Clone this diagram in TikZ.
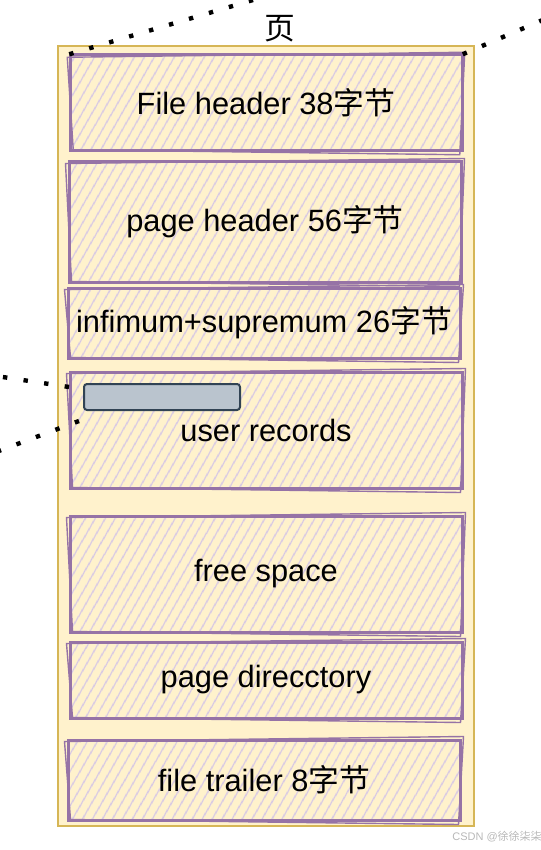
\documentclass[tikz,border=0pt]{standalone}
\usepackage{fontspec}
\setmainfont{Liberation Sans}
\newfontfamily\cjk{Noto Sans CJK SC}
\usetikzlibrary{patterns.meta,calc}

\definecolor{pagefill}{HTML}{FFF2CC}
\definecolor{pageline}{HTML}{D6B656}
\definecolor{partline}{HTML}{9673A6}
\definecolor{parthatch}{HTML}{D5C6E6}
\definecolor{barfill}{HTML}{BAC4CE}
\definecolor{barline}{HTML}{314354}

\tikzset{
  pagebox/.style={draw=pageline, fill=pagefill, line width=1pt, inner sep=0pt,
    minimum width=208pt, minimum height=390pt},
  partbox/.style={draw=partline, line width=1.5pt, inner sep=0pt,
    pattern={Lines[angle=60,distance=4pt,line width=0.75pt]}, pattern color=parthatch,
    minimum width=196pt, font=\fontsize{15.4}{17}\selectfont},
  sketchline/.style={draw=partline, line width=0.7pt},
  recordbar/.style={draw=barline, fill=barfill, line width=1pt, rounded corners=1.5pt,
    minimum width=78pt, minimum height=13pt, inner sep=0pt},
  dotline/.style={line width=2.2pt, dash pattern=on 2.2pt off 8.2pt}
}

\begin{document}
\begin{tikzpicture}[x=0.5pt,y=-0.5pt]
  \useasboundingbox (0,0) rectangle (540,850);
  % the page and its title
  \path (266,436) node[pagebox] (page) {};
  \path (280,29) node[font=\fontsize{15.4}{17}\selectfont\cjk] (title) {页};
  % the parts of the page, top to bottom
  \path (266,103) node[partbox, minimum height=48pt] (fh) {File header 38{\cjk 字节}};
  \path (265,222) node[partbox, minimum height=60pt] (ph) {page header 56{\cjk 字节}};
  \path (264,323) node[partbox, minimum height=35pt] (is) {infimum+supremum 26{\cjk 字节}};
  \path (266,430) node[partbox, minimum height=58pt] (ur) {\raisebox{-7pt}{user records}};
  \path (266,574) node[partbox, minimum height=58pt] (fs) {free space};
  \path (266,680) node[partbox, minimum height=38pt] (pd) {page direcctory};
  \path (264,780) node[partbox, minimum height=40pt] (ft) {file trailer 8{\cjk 字节}};
  % second strokes for the hand drawn look
  \foreach \n in {fh,ph,is,ur,fs,pd,ft}
    \draw[sketchline] ($(\n.north west)+(-2,3)$) -- ($(\n.north east)+(2,-2)$)
      -- ($(\n.south east)+(-3,3)$) -- ($(\n.south west)+(4,-2)$) -- cycle;
  % a record inside user records
  \path (162,397) node[recordbar] (rec) {};
  % zoom lines
  \coordinate (topleft) at (253,0);
  \coordinate (topright) at (545,19);
  \coordinate (recup) at (-4,376);
  \coordinate (recdown) at (-4,452);
  \draw[dotline] (fh.north west) -- (topleft);
  \draw[dotline] (fh.north east) -- (topright);
  \draw[dotline] ($(rec.north west)+(-14,4)$) -- (recup);
  \draw[dotline] ($(rec.south west)+(-4,10)$) -- (recdown);
  % watermark
  \path (497,837) node[font=\fontsize{5.5}{6}\selectfont, text=black!28] (mark) {CSDN @{\cjk 徐徐柒柒}};
\end{tikzpicture}
\end{document}
